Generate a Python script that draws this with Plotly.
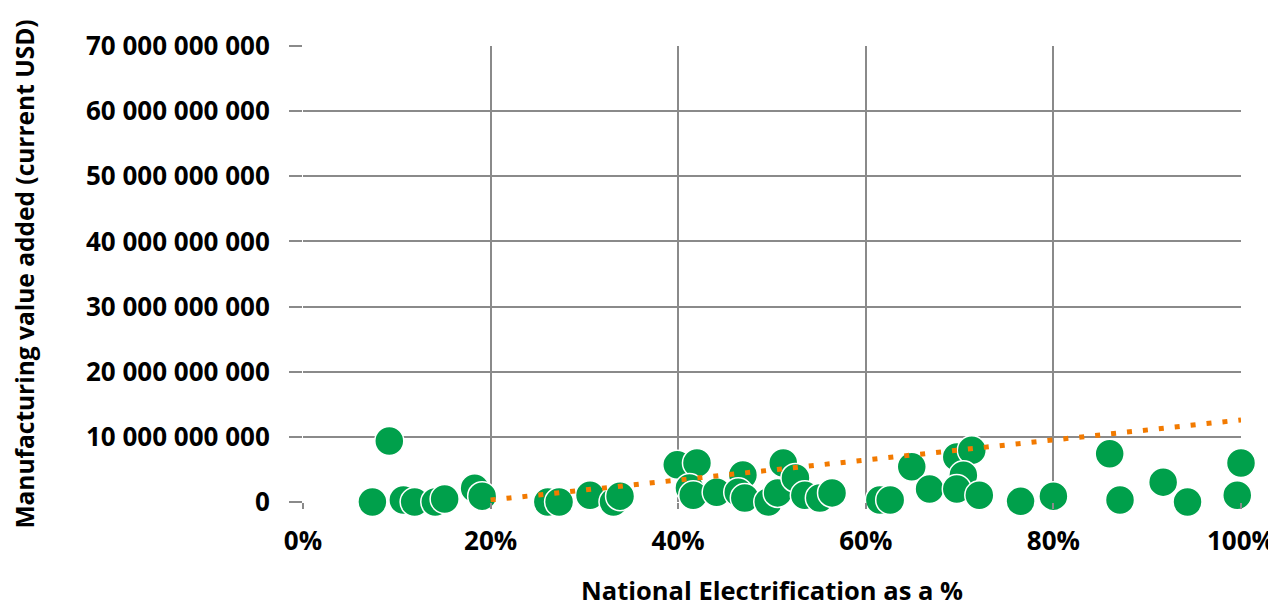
import plotly.graph_objects as go

# National electrification (fraction) and manufacturing value added (USD)
electrification = [
    0.074, 0.092, 0.107, 0.119, 0.141, 0.151, 0.183, 0.191,
    0.261, 0.273, 0.306, 0.331, 0.338,
    0.399, 0.420, 0.412, 0.416, 0.441, 0.469, 0.464, 0.471,
    0.496, 0.512, 0.506, 0.525, 0.525, 0.535, 0.551, 0.564,
    0.615, 0.626, 0.649, 0.668, 0.697, 0.713, 0.704, 0.697, 0.721,
    0.765, 0.800, 0.860, 0.871, 0.917, 0.943, 1.000, 0.996, 1.002,
]
mva = [
    0.0e9, 9.35e9, 0.3e9, 0.0e9, 0.0e9, 0.45e9, 2.1e9, 0.9e9,
    0.0e9, 0.0e9, 1.05e9, 0.0e9, 0.9e9,
    5.7e9, 6.0e9, 2.15e9, 1.05e9, 1.5e9, 4.15e9, 1.5e9, 0.6e9,
    0.0e9, 6.0e9, 1.4e9, 3.7e9, -0.6e9, 1.05e9, 0.6e9, 1.4e9,
    0.3e9, 0.3e9, 5.4e9, 2.0e9, 6.9e9, 7.95e9, 4.1e9, 2.0e9, 1.05e9,
    0.1e9, 0.9e9, 7.4e9, 0.3e9, 3.05e9, 0.0e9, 6.0e9, 1.05e9, 0.0e9,
]
# Linear trend line end points
trend_x = [0.20, 1.00]
trend_y = [0.3e9, 12.6e9]

y_ticks = [0, 10e9, 20e9, 30e9, 40e9, 50e9, 60e9, 70e9]
x_ticks = [0, 0.2, 0.4, 0.6, 0.8, 1.0]

FONT = "Open Sans"
GRID = "#8a8a8a"
FS = 26

fig = go.Figure()
fig.add_trace(go.Scatter(
    x=electrification, y=mva, mode="markers",
    marker=dict(size=29, color="#00A04B", line=dict(color="white", width=1.5)),
    cliponaxis=False, showlegend=False,
))
fig.add_trace(go.Scatter(
    x=trend_x, y=trend_y, mode="lines",
    line=dict(color="#F27A00", width=5, dash="5px,11px"),
    cliponaxis=False, showlegend=False,
))

fig.update_layout(
    width=1268, height=599,
    margin=dict(l=295, r=35, t=38, b=105),
    paper_bgcolor="white", plot_bgcolor="white",
    separators=". ",
    font=dict(family=FONT, size=FS, color="black", weight="bold"),
    showlegend=False,
)
fig.update_xaxes(
    range=[0, 1], tickvals=x_ticks, tickformat=".0%",
    showgrid=True, gridcolor=GRID, gridwidth=2,
    zeroline=False, showline=False,
    ticks="outside", ticklen=6, tickcolor=GRID, tickwidth=2,
    ticklabelstandoff=10,
    tickfont=dict(family=FONT, size=FS, color="black", weight="bold"),
    title=dict(text="National Electrification as a %", standoff=50,
               font=dict(family=FONT, size=25.5, color="black", weight="bold")),
    automargin=False,
)
fig.update_yaxes(
    range=[0, 70e9], tickvals=y_ticks, tickformat=",d",
    showgrid=True, gridcolor=GRID, gridwidth=2,
    zeroline=False, showline=False,
    ticks="outside", ticklen=13, tickcolor=GRID, tickwidth=2,
    ticklabelstandoff=14,
    tickfont=dict(family=FONT, size=FS, color="black", weight="bold"),
    title=dict(text="Manufacturing value added (current USD)", standoff=45,
               font=dict(family=FONT, size=24.5, color="black", weight="bold")),
    automargin=False,
)

fig.write_html("out.html")
